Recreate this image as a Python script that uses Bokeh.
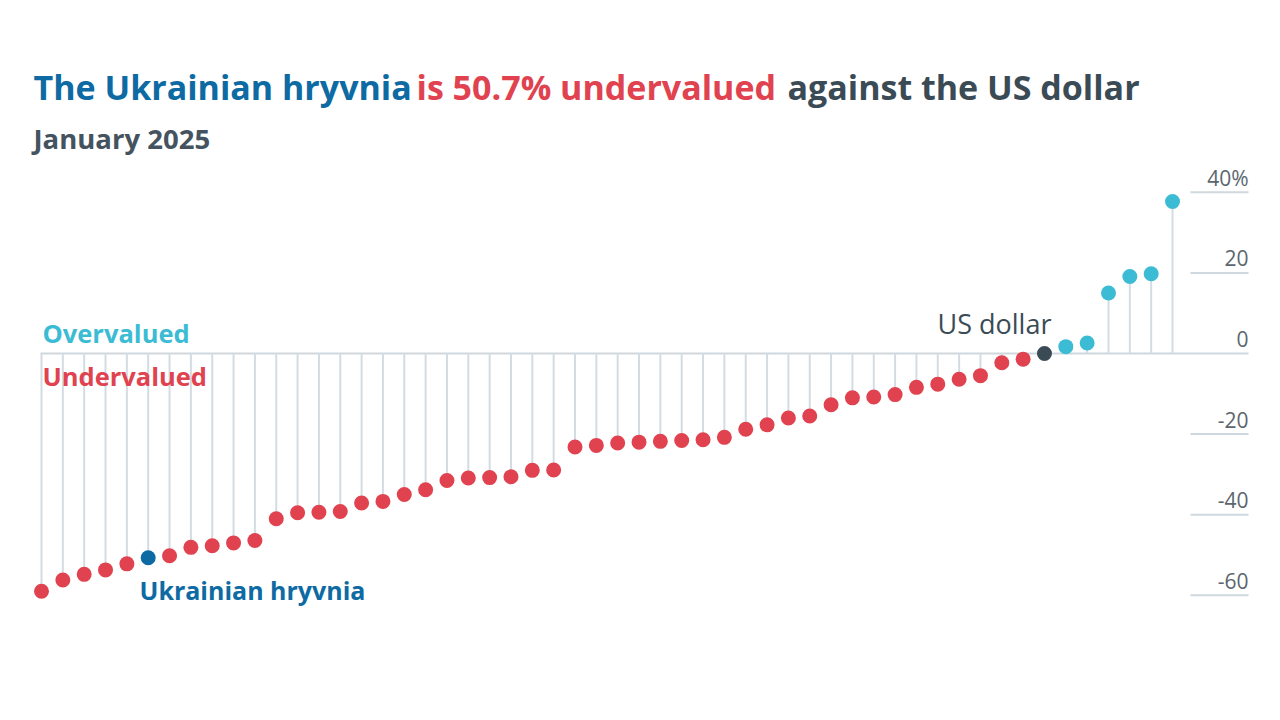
from bokeh.plotting import figure
from bokeh.models import Label, ColumnDataSource
from bokeh.core.properties import value
from bokeh.embed import file_html
from bokeh.resources import INLINE

# Valuation against the US dollar, %, sorted (January 2025)
valuations = [-59.0, -56.2, -54.8, -53.7, -52.2, -50.7, -50.2, -48.1, -47.7, -47.0,
              -46.4, -41.0, -39.5, -39.4, -39.2, -37.1, -36.7, -35.0, -33.8, -31.5,
              -30.9, -30.8, -30.6, -29.0, -28.9, -23.2, -22.8, -22.2, -22.0, -21.8,
              -21.6, -21.4, -20.8, -18.8, -17.7, -16.0, -15.5, -12.7, -11.0, -10.8,
              -10.2, -8.4, -7.6, -6.4, -5.5, -2.3, -1.4, 0.0, 1.7, 2.6,
              15.0, 19.1, 19.8, 37.7]
ukraine_index = 5
usd_index = 47
tick_values = [-60, -40, -20, 0, 20, 40]
tick_labels = ["-60", "-40", "-20", "0", "20", "40%"]

RED = "#e0434f"
CYAN = "#3cbcd4"
BLUE = "#0e6aa3"
DARK = "#3b4b56"
STEM = "#d3dce3"
FONT = "Open Sans"

xs = list(range(len(valuations)))
colors = []
for i, v in enumerate(valuations):
    if i == ukraine_index:
        colors.append(BLUE)
    elif i == usd_index:
        colors.append(DARK)
    elif v > 0:
        colors.append(CYAN)
    else:
        colors.append(RED)

src = ColumnDataSource(dict(x=xs, y=valuations, zero=[0] * len(xs), c=colors))

px_per_x = 21.34
px_per_y = 4.03
x0_px = 41
y0_px = 353
W, H = 1280, 720
BASE_SHIFT = 0.36  # empirical baseline correction (fraction of font size)

p = figure(width=W, height=H, output_backend="svg", toolbar_location=None,
           x_range=(-x0_px / px_per_x, (W - x0_px) / px_per_x),
           y_range=((y0_px - H) / px_per_y, y0_px / px_per_y),
           min_border=0)
p.axis.visible = False
p.grid.visible = False
p.outline_line_color = None
p.background_fill_color = "white"
p.border_fill_color = "white"

# right-hand gridlines
gx0 = (1190 - x0_px) / px_per_x
gx1 = (1248 - x0_px) / px_per_x
nz = [t for t in tick_values if t != 0]
p.segment(x0=[gx0] * len(nz), x1=[gx1] * len(nz), y0=nz, y1=nz,
          line_color="#cfd8de", line_width=2)
# baseline
p.segment(x0=[-0.05], x1=[gx1], y0=[0], y1=[0], line_color="#cfd8de", line_width=2)

# stems
p.segment(x0="x", x1="x", y0="zero", y1="y", source=src, line_color=STEM, line_width=2)
# dots
p.scatter(x="x", y="y", source=src, size=15, fill_color="c", line_color=None)

# tick labels
TS = 21
p.text(x=[gx1] * len(tick_values), y=tick_values, text=tick_labels,
       text_align="right", text_baseline="alphabetic", y_offset=-7 - 0.36 * TS,
       text_font=value(FONT), text_font_size=f"{TS}px", text_color="#5b666f")


def lab(x, baseline, text, color, size, bold=True):
    p.add_layout(Label(x=x, y=H - baseline + BASE_SHIFT * size, x_units="screen", y_units="screen",
                       text=text, text_color=color, text_font=FONT,
                       text_font_size=f"{size}px", text_font_style="bold" if bold else "normal",
                       text_baseline="alphabetic"))


lab(33, 99, "The Ukrainian hryvnia", BLUE, 34)
lab(416, 99, "is 50.7% undervalued", RED, 34)
lab(787, 99, "against the US dollar", DARK, 34)
lab(33, 148, "January 2025", "#44535e", 27.5)
lab(42, 342, "Overvalued", CYAN, 25.5)
lab(42, 385, "Undervalued", RED, 25.5)
lab(139, 598, "Ukrainian hryvnia", BLUE, 25)
lab(937, 333, "US dollar", DARK, 27, bold=False)

open("out.html", "w").write(file_html(p, INLINE))
